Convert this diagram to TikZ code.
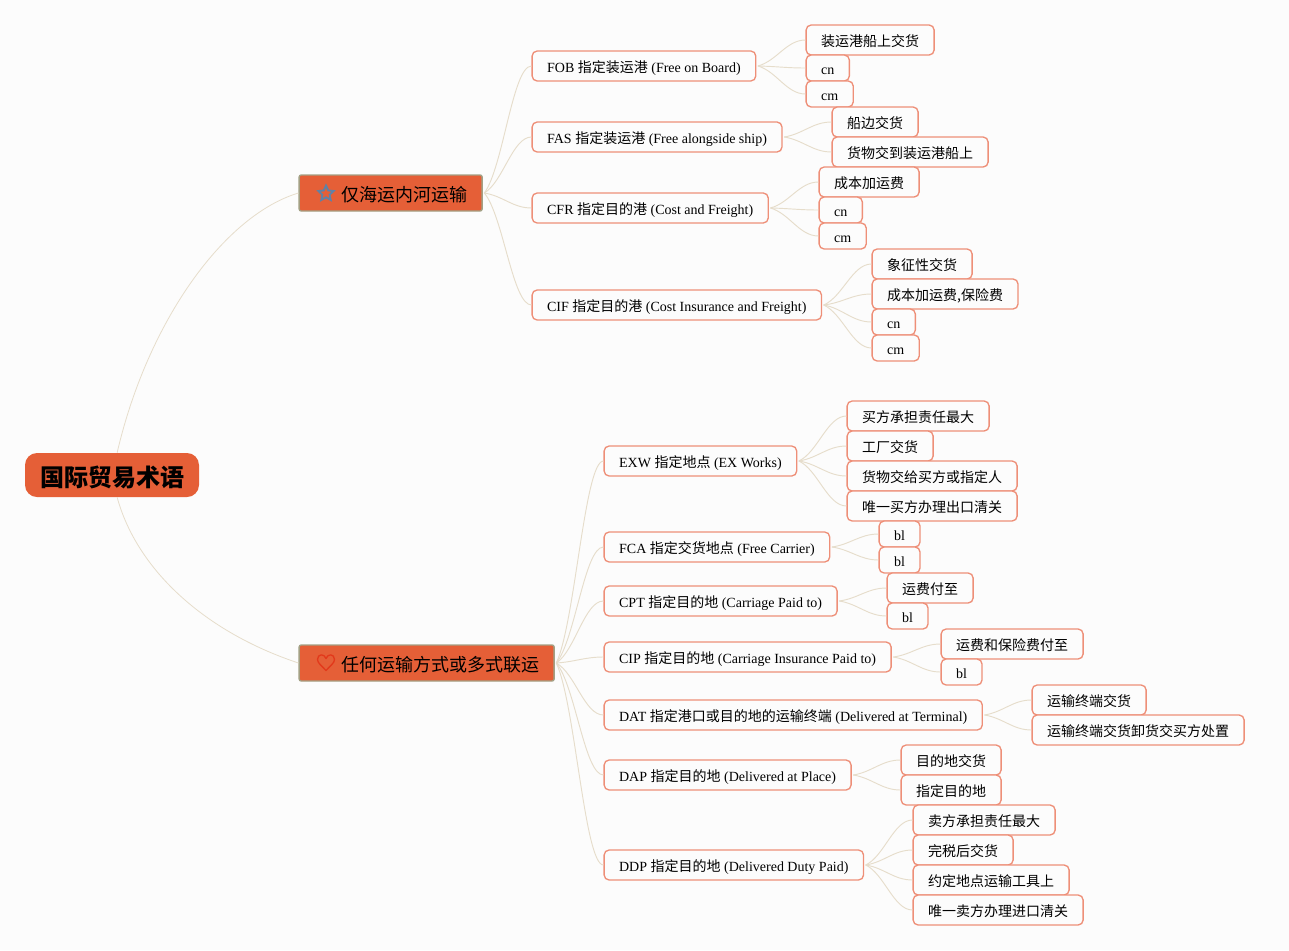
\documentclass[tikz,border=0pt]{standalone}
\usepackage{fontspec}
\setmainfont{Liberation Serif}
\newfontfamily\cjk{Noto Sans CJK SC}
\usetikzlibrary{calc,shapes.geometric}
\definecolor{canvascol}{HTML}{FCFCFC}
\definecolor{topicfill}{HTML}{E55F37}
\definecolor{topicline}{HTML}{A3A084}
\definecolor{leafline}{HTML}{EE8F78}
\definecolor{branchcol}{HTML}{E6DDCB}
\definecolor{starcol}{HTML}{5F82A6}
\definecolor{heartcol}{HTML}{E2391B}
\newcommand{\zh}[1]{{\cjk #1}}
\newcommand{\branch}[2]{\draw[twig] let \p1=($(#1.east)+(1.5,0)$), \p2=(#2.west) in (\p1) .. controls ({\x1+0.4*(\x2-\x1)},{\y1+0.2*(\y2-\y1)}) and ({\x1+0.6*(\x2-\x1)},\y2) .. (\p2);}
\tikzset{
  x=0.75pt, y=-0.75pt,
  twig/.style={branchcol, line width=0.7pt},
  leaf/.style={draw=leafline, fill=canvascol, line width=1pt, rounded corners=3.75pt, anchor=west, xshift=-0.4pt,
    font=\fontsize{10.5pt}{12pt}\selectfont, text height=11.25pt, text depth=2.25pt, inner xsep=11.25pt, inner ysep=4.5pt},
  tiny leaf/.style={leaf, inner ysep=3pt},
  note leaf/.style={leaf, text height=11.65pt, text depth=1.85pt},
  topic/.style={draw=topicline, fill=topicfill, line width=1pt, rounded corners=1.5pt, anchor=west, xshift=-0.4pt,
    font=\fontsize{13.5pt}{16pt}\selectfont, text height=15pt, text depth=3pt, inner xsep=11.25pt, inner ysep=4.5pt},
  rootnode/.style={fill=topicfill, rounded corners=9pt, font=\fontsize{18pt}{22pt}\selectfont\cjk\bfseries,
    text height=18.75pt, text depth=2.25pt, minimum width=130.5pt, minimum height=33pt, inner sep=0pt},
  staricon/.style={star, star points=5, star point ratio=2.1, draw=starcol, line width=1.4pt, inner sep=0pt, minimum size=12pt},
  hearticon/.style={draw=heartcol, line width=1pt, line join=round},
}
\begin{document}
\begin{tikzpicture}
\fill[canvascol] (0,0) rectangle (1289,950);
\useasboundingbox (0,0) rectangle (1289,950);

\node[rootnode] (root) at (112,475) {国际贸易术语};
\node[topic] (sea) at (299,193) {\hspace*{20.25pt}\zh{仅海运内河运输}};
\node[topic] (any) at (299,663) {\hspace*{20.25pt}\zh{任何运输方式或多式联运}};
\node[staricon] (seaicon) at (326,193.5) {};
\draw[hearticon] (326,670.5) .. controls (322,666) and (317.5,663) .. (317.5,659.5) .. controls (317.5,653.5) and (324.5,653.5) .. (326,658.5) .. controls (327.5,653.5) and (334.5,653.5) .. (334.5,659.5) .. controls (334.5,663) and (330,666) .. cycle;

\node[leaf] (fob) at (532,66) {FOB \zh{指定装运港} (Free on Board)};
\node[leaf] (fas) at (532,137) {FAS \zh{指定装运港} (Free alongside ship)};
\node[leaf] (cfr) at (532,208) {CFR \zh{指定目的港} (Cost and Freight)};
\node[leaf] (cif) at (532,305) {CIF \zh{指定目的港} (Cost Insurance and Freight)};

\node[note leaf] (fobA) at (806,40) {\zh{装运港船上交货}};
\node[tiny leaf] (fobB) at (806,68) {cn};
\node[tiny leaf] (fobC) at (806,94) {cm};
\node[note leaf] (fasA) at (832,122) {\zh{船边交货}};
\node[note leaf] (fasB) at (832,152) {\zh{货物交到装运港船上}};
\node[note leaf] (cfrA) at (819,182) {\zh{成本加运费}};
\node[tiny leaf] (cfrB) at (819,210) {cn};
\node[tiny leaf] (cfrC) at (819,236) {cm};
\node[note leaf] (cifA) at (872,264) {\zh{象征性交货}};
\node[note leaf] (cifB) at (872,294) {\zh{成本加运费,保险费}};
\node[tiny leaf] (cifC) at (872,322) {cn};
\node[tiny leaf] (cifD) at (872,348) {cm};

\node[leaf] (exw) at (604,461) {EXW \zh{指定地点} (EX Works)};
\node[leaf] (fca) at (604,547) {FCA \zh{指定交货地点} (Free Carrier)};
\node[leaf] (cpt) at (604,601) {CPT \zh{指定目的地} (Carriage Paid to)};
\node[leaf] (cip) at (604,657) {CIP \zh{指定目的地} (Carriage Insurance Paid to)};
\node[leaf] (dat) at (604,715) {DAT \zh{指定港口或目的地的运输终端} (Delivered at Terminal)};
\node[leaf] (dap) at (604,775) {DAP \zh{指定目的地} (Delivered at Place)};
\node[leaf] (ddp) at (604,865) {DDP \zh{指定目的地} (Delivered Duty Paid)};

\node[note leaf] (exwA) at (847,416) {\zh{买方承担责任最大}};
\node[note leaf] (exwB) at (847,446) {\zh{工厂交货}};
\node[note leaf] (exwC) at (847,476) {\zh{货物交给买方或指定人}};
\node[note leaf] (exwD) at (847,506) {\zh{唯一买方办理出口清关}};
\node[tiny leaf] (fcaA) at (879,534) {bl};
\node[tiny leaf] (fcaB) at (879,560) {bl};
\node[note leaf] (cptA) at (887,588) {\zh{运费付至}};
\node[tiny leaf] (cptB) at (887,616) {bl};
\node[note leaf] (cipA) at (941,644) {\zh{运费和保险费付至}};
\node[tiny leaf] (cipB) at (941,672) {bl};
\node[note leaf] (datA) at (1032,700) {\zh{运输终端交货}};
\node[note leaf] (datB) at (1032,730) {\zh{运输终端交货卸货交买方处置}};
\node[note leaf] (dapA) at (901,760) {\zh{目的地交货}};
\node[note leaf] (dapB) at (901,790) {\zh{指定目的地}};
\node[note leaf] (ddpA) at (913,820) {\zh{卖方承担责任最大}};
\node[note leaf] (ddpB) at (913,850) {\zh{完税后交货}};
\node[note leaf] (ddpC) at (913,880) {\zh{约定地点运输工具上}};
\node[note leaf] (ddpD) at (913,910) {\zh{唯一卖方办理进口清关}};

% main branches
\draw[twig, line width=0.6pt] (root.77) .. controls (148,320) and (225,215) .. (sea.west);
\draw[twig, line width=0.6pt] (root.-77) .. controls (137,570) and (205,632) .. (any.west);

\foreach \kid in {fob,fas,cfr,cif} {\branch{sea}{\kid}}
\foreach \kid in {exw,fca,cpt,cip,dat,dap,ddp} {\branch{any}{\kid}}

\foreach \kid in {fobA,fobB,fobC} {\branch{fob}{\kid}}
\foreach \kid in {fasA,fasB} {\branch{fas}{\kid}}
\foreach \kid in {cfrA,cfrB,cfrC} {\branch{cfr}{\kid}}
\foreach \kid in {cifA,cifB,cifC,cifD} {\branch{cif}{\kid}}
\foreach \kid in {exwA,exwB,exwC,exwD} {\branch{exw}{\kid}}
\foreach \kid in {fcaA,fcaB} {\branch{fca}{\kid}}
\foreach \kid in {cptA,cptB} {\branch{cpt}{\kid}}
\foreach \kid in {cipA,cipB} {\branch{cip}{\kid}}
\foreach \kid in {datA,datB} {\branch{dat}{\kid}}
\foreach \kid in {dapA,dapB} {\branch{dap}{\kid}}
\foreach \kid in {ddpA,ddpB,ddpC,ddpD} {\branch{ddp}{\kid}}
\end{tikzpicture}
\end{document}
